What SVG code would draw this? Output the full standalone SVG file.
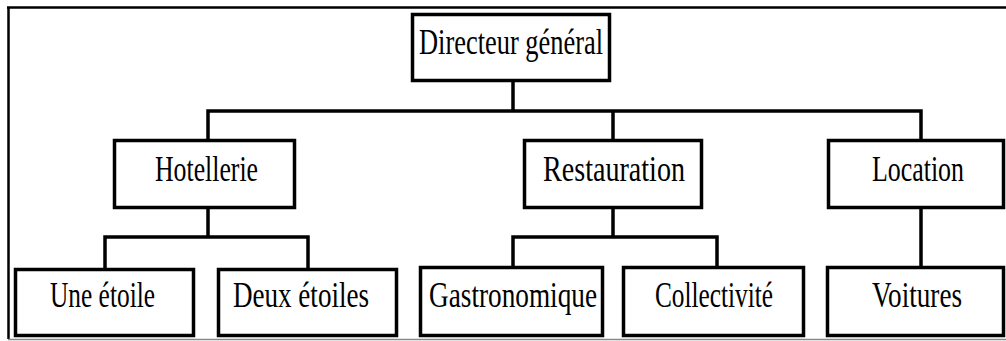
<svg xmlns="http://www.w3.org/2000/svg" width="1006" height="341" viewBox="0 0 1006 341">
<style>
.box{fill:#fff;stroke:#000;stroke-width:3.5}
.lbl{font-family:"Liberation Serif","Times New Roman",serif;font-size:35px;fill:#000}
.con{fill:none;stroke:#000;stroke-width:3.5;stroke-linecap:square}
</style>
<rect width="1006" height="341" fill="#fff"/>
<g id="frame">
<line x1="7" y1="7.5" x2="1006" y2="7.5" stroke="#000" stroke-width="2.5"/>
<line x1="8.5" y1="7" x2="8.5" y2="339" stroke="#000" stroke-width="2.5"/>
<line x1="8" y1="339.5" x2="1006" y2="339.5" stroke="#888" stroke-width="1.5"/>
</g>
<g id="connectors">
<path class="con" d="M513 82V111M208 111H921M208 111V139M613 111V139M921 111V139"/>
<path class="con" d="M208 209V237M105 237H308M105 237V268M308 237V268"/>
<path class="con" d="M613 209V237M513 237H717M513 237V266M717 237V266"/>
<path class="con" d="M921 209V266"/>
</g>
<g id="n-directeur">
<rect class="box" x="412.5" y="14.5" width="197" height="66"/>
<text class="lbl" x="419" y="54" textLength="184" lengthAdjust="spacingAndGlyphs">Directeur général</text>
</g>
<g id="n-hotellerie">
<rect class="box" x="114.5" y="140.5" width="180" height="67"/>
<text class="lbl" x="155" y="181" textLength="103" lengthAdjust="spacingAndGlyphs">Hotellerie</text>
</g>
<g id="n-restauration">
<rect class="box" x="524.5" y="140.5" width="177" height="67"/>
<text class="lbl" x="543" y="181" textLength="142" lengthAdjust="spacingAndGlyphs">Restauration</text>
</g>
<g id="n-location">
<rect class="box" x="828.5" y="140.5" width="175" height="67"/>
<text class="lbl" x="872" y="181" textLength="92" lengthAdjust="spacingAndGlyphs">Location</text>
</g>
<g id="n-une-etoile">
<rect class="box" x="15.5" y="269.5" width="178" height="66"/>
<text class="lbl" x="50" y="307" textLength="105" lengthAdjust="spacingAndGlyphs">Une étoile</text>
</g>
<g id="n-deux-etoiles">
<rect class="box" x="218.5" y="269.5" width="178" height="66"/>
<text class="lbl" x="233" y="307" textLength="136" lengthAdjust="spacingAndGlyphs">Deux étoiles</text>
</g>
<g id="n-gastronomique">
<rect class="box" x="420.5" y="267.5" width="182" height="68"/>
<text class="lbl" x="429" y="307" textLength="168" lengthAdjust="spacingAndGlyphs">Gastronomique</text>
</g>
<g id="n-collectivite">
<rect class="box" x="623.5" y="267.5" width="180" height="68"/>
<text class="lbl" x="655" y="307" textLength="118" lengthAdjust="spacingAndGlyphs">Collectivité</text>
</g>
<g id="n-voitures">
<rect class="box" x="827.5" y="267.5" width="176" height="68"/>
<text class="lbl" x="872" y="307" textLength="90" lengthAdjust="spacingAndGlyphs">Voitures</text>
</g>
</svg>
